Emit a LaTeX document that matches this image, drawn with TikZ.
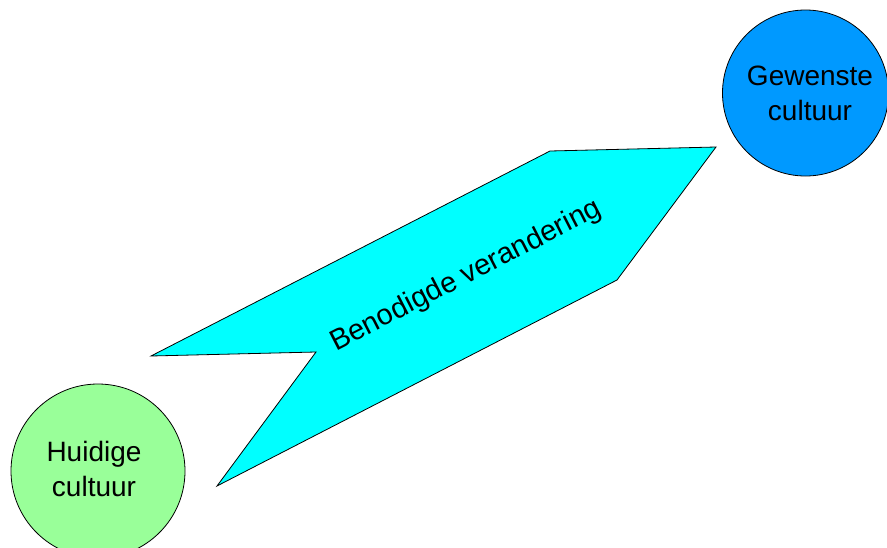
\documentclass[tikz,border=0pt]{standalone}
\usepackage{fontspec}
\setmainfont{Liberation Sans}
\definecolor{huidig}{HTML}{99FF99}
\definecolor{gewenst}{HTML}{0099FF}
\definecolor{veranderkleur}{HTML}{00FFFF}
\begin{document}
\begin{tikzpicture}[x=1pt,y=-1pt,
  cult/.style={circle,draw=black,line width=0.8pt,inner sep=0pt,align=center,
    font=\fontsize{28}{35}\selectfont},
  pijl/.style={draw=black,line width=0.8pt,fill=veranderkleur,line join=miter}]
\useasboundingbox (0,0) rectangle (887,547);
\node[cult,fill=huidig,minimum size=174pt] (huidig) at (98,471) {};
\node[cult,fill=gewenst,minimum size=166pt] (gewenst) at (805.5,93) {};
\node[font=\fontsize{28}{35}\selectfont,align=center] (thuidig) at (94,469) {Huidige\\cultuur};
\node[font=\fontsize{28}{35}\selectfont,align=center] (tgewenst) at (810,93) {Gewenste\\cultuur};
\path[pijl] (151,356) coordinate (a) -- (316,352) coordinate (b) -- (217,486) coordinate (c)
  -- (617,280) coordinate (d) -- (716,147) coordinate (e) -- (550,151) coordinate (f) -- cycle;
\node[font=\fontsize{29}{35}\selectfont,rotate=27.2] (tverander) at (466,276) {Benodigde verandering};
\end{tikzpicture}
\end{document}
